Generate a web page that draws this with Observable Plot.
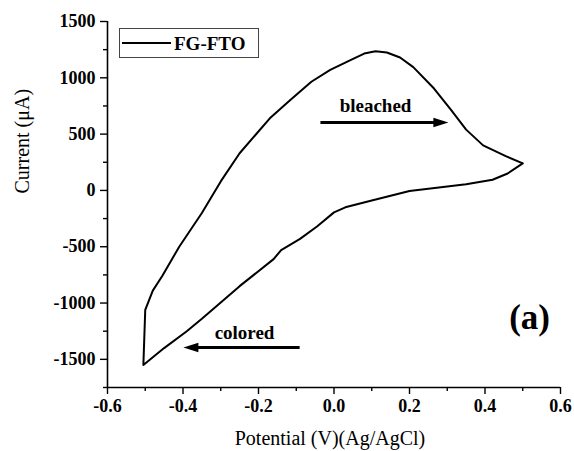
<!DOCTYPE html>
<html>
<head>
<meta charset="utf-8">
<script src="https://cdn.jsdelivr.net/npm/d3@7"></script>
<script src="https://cdn.jsdelivr.net/npm/@observablehq/plot@0.6"></script>
<style>
  body { margin: 0; background: #fff; }
  #chart { position: relative; width: 574px; height: 451px; }
</style>
</head>
<body>
<div id="chart"></div>
<script>
// Cyclic voltammogram, FG-FTO, traced in scan order
const potential = [
  0.50, 0.46, 0.42, 0.35, 0.30, 0.20, 0.10, 0.03, 0.00, -0.045, -0.09, -0.14, -0.16, -0.25, -0.35, -0.39, -0.45, -0.505,
  -0.50, -0.48, -0.455, -0.41, -0.35, -0.30, -0.25, -0.17, -0.115, -0.06, -0.01, 0.045, 0.08, 0.11, 0.14, 0.175, 0.21, 0.265, 0.31, 0.35, 0.395, 0.455, 0.50
];
const current = [
  240, 150, 95, 55, 35, -5, -90, -150, -195, -320, -430, -530, -610, -850, -1140, -1250, -1400, -1550,
  -1060, -890, -760, -500, -200, 80, 330, 640, 805, 965, 1070, 1160, 1215, 1235, 1225, 1180, 1095, 905, 716, 540, 400, 305, 240
];
const seriesName = "FG-FTO";
const xTicks = [-0.6, -0.4, -0.2, 0.0, 0.2, 0.4, 0.6];
const xTickLabels = ["-0.6", "-0.4", "-0.2", "0.0", "0.2", "0.4", "0.6"];
const xMinor = [-0.5, -0.3, -0.1, 0.1, 0.3, 0.5];
const yTicks = [-1500, -1000, -500, 0, 500, 1000, 1500];
const yTickLabels = ["-1500", "-1000", "-500", "0", "500", "1000", "1500"];
const yMinor = [-1750, -1250, -750, -250, 250, 750, 1250];
const xLabel = "Potential (V)(Ag/AgCl)";
const yLabel = "Current (μA)";
const annoText = ["bleached", "colored"];
const annoX = [0.11, -0.237];
const annoY = [750, -1265];
const arrowX1 = [-0.036, -0.091];
const arrowX2 = [0.303, -0.399];
const arrowY = [603, -1395];
const panelLabel = "(a)";

const cv = potential.map((x, i) => ({x, y: current[i]}));
const arrows = arrowX1.map((x1, i) => ({x1, x2: arrowX2[i], y: arrowY[i], rot: arrowX2[i] > x1 ? 0 : 180}));
const annos = annoText.map((t, i) => ({t, x: annoX[i], y: annoY[i]}));
const xLab = xTicks.map((v, i) => ({v, t: xTickLabels[i]}));
const yLab = yTicks.map((v, i) => ({v, t: yTickLabels[i]}));

const headSymbol = {
  draw(ctx, size) {
    ctx.moveTo(0, 0);
    ctx.lineTo(-15, -4.8);
    ctx.lineTo(-15, 4.8);
    ctx.closePath();
  }
};

const serif = "'Liberation Serif', 'Times New Roman', serif";

const plot = Plot.plot({
  width: 574,
  height: 451,
  marginLeft: 107,
  marginRight: 14,
  marginTop: 21,
  marginBottom: 64,
  style: {fontFamily: serif, background: "white", color: "black", fontSize: "18px"},
  x: {domain: [-0.6, 0.6]},
  y: {domain: [-1750, 1500]},
  marks: [
    Plot.ruleX([-0.6], {stroke: "black", strokeWidth: 1.6}),
    Plot.ruleY([-1750], {stroke: "black", strokeWidth: 1.6}),
    Plot.axisX({ticks: xTicks, tickSize: 7, tickFormat: () => "", label: null, strokeWidth: 1.4}),
    Plot.axisX({ticks: xMinor, tickSize: 4, tickFormat: () => "", label: null, strokeWidth: 1.4}),
    Plot.axisY({ticks: yTicks, tickSize: 7, tickFormat: () => "", label: null, strokeWidth: 1.4}),
    Plot.axisY({ticks: yMinor, tickSize: 4, tickFormat: () => "", label: null, strokeWidth: 1.4}),
    Plot.text(xLab, {x: "v", text: "t", frameAnchor: "bottom", dy: 12, lineAnchor: "top", fontSize: 18, fontWeight: "bold"}),
    Plot.text(yLab, {y: "v", text: "t", frameAnchor: "left", dx: -12, textAnchor: "end", lineAnchor: "middle", fontSize: 18, fontWeight: "bold"}),
    Plot.text([xLabel], {frameAnchor: "bottom", dy: 51, text: d => d, fontSize: 20, fontWeight: "normal", lineAnchor: "middle", dx: -4}),
    Plot.text([yLabel], {frameAnchor: "left", dx: -85, dy: -11, rotate: -90, text: d => d, fontSize: 20, fontWeight: "normal", lineAnchor: "middle"}),
    Plot.line(cv, {x: "x", y: "y", stroke: "black", strokeWidth: 2, curve: "linear"}),
    Plot.link(arrows, {x1: "x1", x2: d => d.x2 + (d.rot === 0 ? -0.03 : 0.03), y1: "y", y2: "y", stroke: "black", strokeWidth: 3}),
    Plot.dot(arrows, {x: "x2", y: "y", symbol: headSymbol, rotate: "rot", fill: "black", stroke: null, r: 6}),
    Plot.text(annos, {x: "x", y: "y", text: "t", fontSize: 19, fontWeight: "bold"}),
    Plot.text([panelLabel], {x: [0.518], y: [-1131], text: d => d, fontSize: 35, fontWeight: "bold"})
  ]
});

const svg = d3.select(plot);
// Legend box (inside the plot area, top-left)
const lg = svg.append("g");
lg.append("rect").attr("x", 119.5).attr("y", 28.5).attr("width", 139).attr("height", 29)
  .attr("fill", "white").attr("stroke", "#444").attr("stroke-width", 1);
lg.append("line").attr("x1", 122).attr("x2", 171).attr("y1", 43).attr("y2", 43)
  .attr("stroke", "black").attr("stroke-width", 2);
lg.append("text").attr("x", 174).attr("y", 50).attr("text-anchor", "start").text(seriesName)
  .attr("font-family", serif).attr("font-size", 19).attr("font-weight", "bold").attr("fill", "black");

document.getElementById("chart").appendChild(plot);
</script>
</body>
</html>
